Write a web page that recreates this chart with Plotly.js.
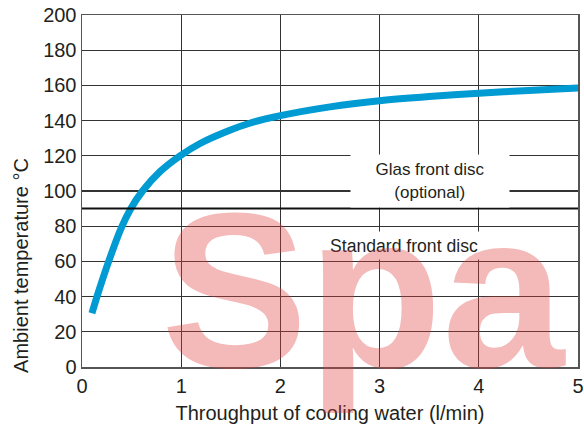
<!DOCTYPE html>
<html>
<head>
<meta charset="utf-8">
<script src="https://cdn.plot.ly/plotly-3.0.1.min.js"></script>
<style>html,body{margin:0;padding:0;background:#fff;} #chart{width:584px;height:429px;}</style>
</head>
<body>
<div id="chart"></div>
<script>
// Data
var flowLpm = [0.1, 0.151, 0.269, 0.396, 0.487, 0.61, 0.786, 0.988, 1.19, 1.49, 1.69, 2, 2.5, 3, 3.5, 4, 4.5, 5];
var ambientTempC = [30.5, 40, 60, 79, 89.5, 100, 111, 120, 127, 134.5, 138.5, 142.8, 147.8, 151.3, 153.7, 155.6, 157.1, 158.5];
var limitTemp = 90;
var xTicks = [0, 1, 2, 3, 4, 5];
var yTicks = [0, 20, 40, 60, 80, 100, 120, 140, 160, 180, 200];
var xTitle = "Throughput of cooling water (l/min)";
var yTitle = "Ambient temperature °C";
var labelGlas = "Glas front disc<br>(optional)";
var labelStandard = "Standard front disc";
var watermark = "Spa";

var font = "Liberation Sans, Arial, sans-serif";
var ink = '#231f20';

var trace = {
  x: flowLpm, y: ambientTempC, type: 'scatter', mode: 'lines',
  line: {color: '#009bd2', width: 7, shape: 'spline', smoothing: 0.7},
  hoverinfo: 'skip'
};

var layout = {
  width: 584, height: 429,
  margin: {l: 82, r: 6, t: 15, b: 62},
  paper_bgcolor: '#fff', plot_bgcolor: '#fff',
  showlegend: false,
  font: {family: font, color: ink, size: 20},
  xaxis: {
    range: [0, 5], tickvals: xTicks, ticktext: xTicks.map(String),
    showgrid: true, gridcolor: '#333', gridwidth: 1.2, zeroline: false,
    showline: true, linecolor: '#555', linewidth: 1.5, mirror: true,
    ticks: '', ticklen: 0, tickfont: {size: 20, family: font, color: ink},
    title: {text: xTitle, font: {size: 20, family: font, color: ink}, standoff: 10}
  },
  yaxis: {
    range: [0, 200], tickvals: yTicks, ticktext: yTicks.map(String),
    showgrid: true, gridcolor: '#333', gridwidth: 1.2, zeroline: false,
    showline: true, linecolor: '#555', linewidth: 1.5, mirror: true,
    ticks: '', ticklen: 0, tickfont: {size: 20, family: font, color: ink}
  },
  shapes: [
    {type: 'line', xref: 'paper', yref: 'y', x0: 0, x1: 1, y0: limitTemp, y1: limitTemp,
     line: {color: '#111', width: 2}, layer: 'above'}
  ],
  annotations: [
    {x: -0.123, y: 0.29, xref: 'paper', yref: 'paper', xanchor: 'center', yanchor: 'middle',
     text: yTitle, textangle: -90, showarrow: false,
     font: {size: 20, family: font, color: ink}},
    {x: 3.51, y: 105.66, xref: 'x', yref: 'y', text: labelGlas, showarrow: false,
     font: {size: 17, family: font, color: ink}, bgcolor: '#fff',
     width: 158, height: 52, borderpad: 0, align: 'center'},
    {x: 3.25, y: 69.2, xref: 'x', yref: 'y', text: labelStandard, showarrow: false,
     font: {size: 17.6, family: font, color: ink}, bgcolor: '#fff',
     width: 170, height: 27, borderpad: 0, align: 'center'},
    {x: 0.155, y: 0.215, xref: 'paper', yref: 'paper', xanchor: 'left', yanchor: 'middle',
     text: '<b>' + watermark + '</b>', showarrow: false,
     font: {size: 220, family: font, color: 'rgba(225,60,60,0.36)'}}
  ]
};

Plotly.newPlot('chart', [trace], layout, {displayModeBar: false, staticPlot: true});
</script>
</body>
</html>
